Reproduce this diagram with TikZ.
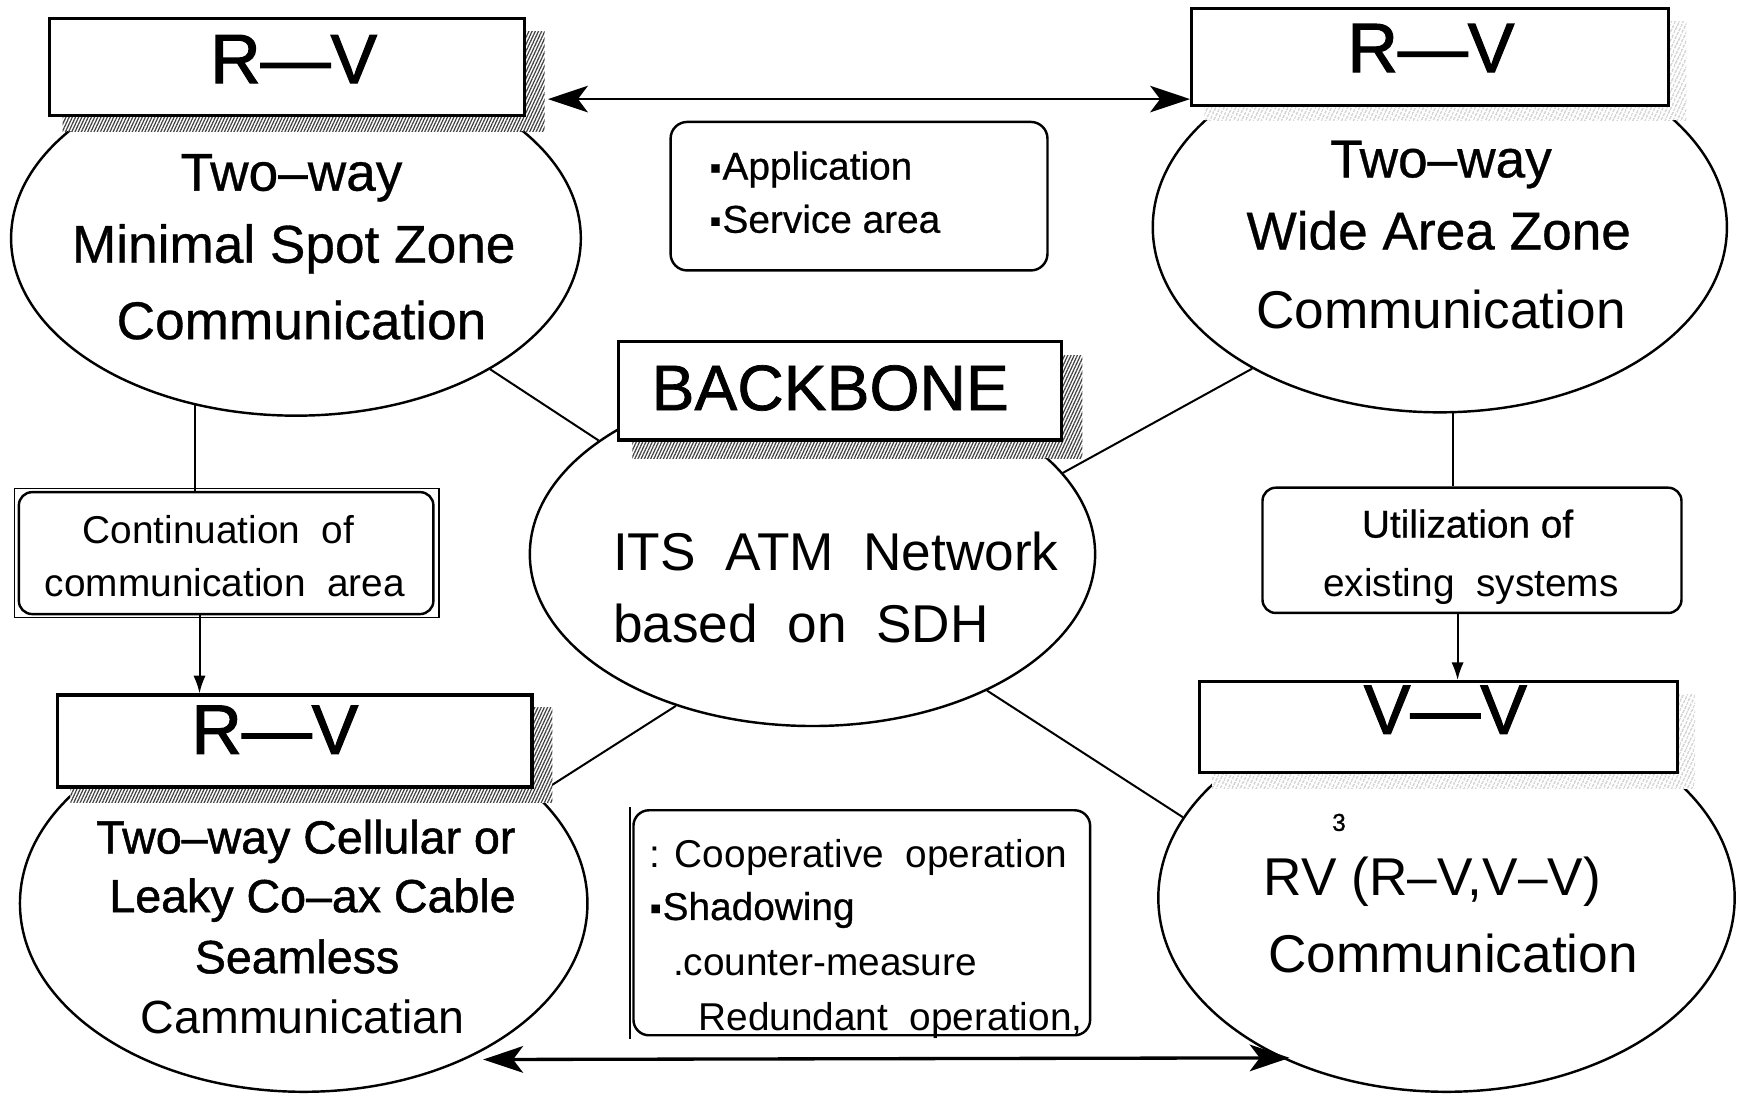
\documentclass[tikz,border=0pt]{standalone}
\usepackage{fontspec}
\setmainfont{Liberation Sans}
\newfontfamily\fbA{Liberation Sans}[FakeBold=1.6]
\newfontfamily\fbB{Liberation Sans}[FakeBold=0.6]
\newfontfamily\fbC{Liberation Sans}[FakeBold=1.1]
\usetikzlibrary{shapes.geometric, arrows.meta, patterns.meta}
\pgfdeclarelayer{bg}
\pgfdeclarelayer{ell}
\pgfdeclarelayer{shd}
\pgfsetlayers{bg,ell,shd,main}
\newcommand\myfs[1]{\fontsize{#1}{#1}\selectfont}
\newcommand\bul{\raisebox{0.02em}{\myfs{30}▪}\hspace{1pt}}
\begin{document}
\begin{tikzpicture}[x=1pt,y=-1pt,
  ell/.style={ellipse, draw, fill=white, line width=2.2pt, inner sep=0pt},
  hbox/.style={rectangle, draw, fill=white, line width=2.8pt, inner sep=0pt},
  rbox/.style={rectangle, rounded corners=12pt, draw, fill=white, line width=2.2pt, inner sep=0pt},
  link/.style={line width=1.8pt},
  bigarr/.style={line width=2pt, arrows={Stealth[length=36pt,width=24pt,inset=9pt]-Stealth[length=36pt,width=24pt,inset=9pt]}},
  smallarr/.style={line width=1.8pt, arrows={-Latex[length=16pt,width=11pt]}},
  shddark/.style={preaction={fill=white}, pattern={Lines[angle=65,distance=2.6pt,line width=1.1pt]}, pattern color=black!75},
  shdlight/.style={preaction={fill=white}, pattern={Lines[angle=65,distance=4pt,line width=0.8pt]}, pattern color=black!45},
  rv/.style={font=\fbA\myfs{63}, inner sep=0pt, anchor=base},
  el/.style={font=\fbB\myfs{48}, inner sep=0pt, anchor=base},
  elr/.style={font=\myfs{48}, inner sep=0pt, anchor=base},
  elsm/.style={font=\fbC\myfs{42}, inner sep=0pt, anchor=base},
  bt/.style={font=\myfs{35}, inner sep=0pt, anchor=base},
  btb/.style={font=\fbB\myfs{35}, inner sep=0pt, anchor=base}
]
\begin{pgfonlayer}{bg}
\fill[white] (0,0) rectangle (1568,990);
\end{pgfonlayer}
\useasboundingbox (0,0) rectangle (1568,990);

% ellipses
\begin{pgfonlayer}{ell}
\node[ell, minimum width=514pt, minimum height=320pt] (tl) at (267,215) {};
\node[ell, minimum width=518pt, minimum height=334pt] (tr) at (1299,205) {};
\node[ell, minimum width=510pt, minimum height=310pt] (ctr) at (733,500) {};
\node[ell, minimum width=512pt, minimum height=340pt] (bl) at (274,815) {};
\node[ell, minimum width=520pt, minimum height=350pt] (br) at (1305,810) {};
\end{pgfonlayer}

% header boxes
\node[hbox, minimum width=428pt, minimum height=87pt] (tlbox) at (259,60.5) {};
\node[hbox, minimum width=430pt, minimum height=87pt] (trbox) at (1290,51.5) {};
\node[hbox, minimum width=400pt, minimum height=89pt] (bbox) at (758,352.5) {};
\node[hbox, minimum width=428pt, minimum height=83pt] (blbox) at (266,668.5) {};
\node[hbox, minimum width=431pt, minimum height=82pt] (brbox) at (1297.5,656) {};

% shadows
\begin{pgfonlayer}{shd}
\path[shddark] ([shift={(13,13)}]tlbox.north west) rectangle ([shift={(17,13)}]tlbox.south east);
\path[shdlight] ([shift={(13,13)}]trbox.north west) rectangle ([shift={(15,12)}]trbox.south east);
\path[shddark] ([shift={(14,14)}]bbox.north west) rectangle ([shift={(17,15)}]bbox.south east);
\path[shddark] ([shift={(13,13)}]blbox.north west) rectangle ([shift={(17,13)}]blbox.south east);
\path[shdlight] ([shift={(13,13)}]brbox.north west) rectangle ([shift={(15,13)}]brbox.south east);
\end{pgfonlayer}

% other boxes
\node[rbox, rounded corners=15pt, minimum width=340pt, minimum height=134pt] (app) at (775,177) {};
\node[rbox, minimum width=374pt, minimum height=110pt] (cont) at (204,499) {};
\draw[line width=1.4pt] ([shift={(-3,-2)}]cont.north west) rectangle ([shift={(4,2)}]cont.south east);
\node[rbox, minimum width=378pt, minimum height=113pt] (util) at (1328,496.5) {};
\node[rbox, rounded corners=14pt, minimum width=412pt, minimum height=203pt] (coop) at (777.5,832.5) {};
\draw[line width=1.4pt] ([shift={(-2,-2)}]coop.north west) -- ([shift={(-2,2)}]coop.south west);

% links
\begin{pgfonlayer}{bg}
\draw[link] (tl.-34) -- (ctr.152);
\draw[link] (tr.-143) -- (ctr.18);
\draw[link] (bl.25) -- (ctr.-132);
\draw[link] (br.163) -- (ctr.-38);
\draw[link] ([xshift=-28pt]cont.north) -- ([xshift=-28pt]cont.north |- tl.center);
\draw[link] ([xshift=-17pt]util.north) -- ([xshift=-17pt]util.north |- tr.center);
\end{pgfonlayer}

% arrows
\draw[smallarr] ([xshift=-24pt]cont.south) -- ([xshift=-24pt]cont.south |- blbox.north);
\draw[smallarr] ([xshift=-13pt]util.south) -- ([xshift=-13pt]util.south |- brbox.north);
\draw[bigarr] ([xshift=20pt,yshift=16pt]tlbox.south east) -- ([yshift=7pt]trbox.south west);
\draw[bigarr, line width=3pt] ([xshift=16pt]bl.-44) -- ([xshift=8pt]br.224.8);

% texts
\node[rv] (rv1) at (265,75) {R—V};
\node[rv] (rv2) at (1291,65) {R—V};
\node[rv] (rv3) at (248,680) {R—V};
\node[rv] (rv4) at (1304,662) {V—V};
\node[rv, font=\fbC\myfs{58}] (bbt) at (749,370) {BACKBONE};

\node[el] (a1) at (263,172) {Two–way};
\node[el] (a2) at (265,237) {Minimal Spot Zone};
\node[el] (a3) at (272,306) {Communication};

\node[el] (b1) at (1300,160) {Two–way};
\node[el] (b2) at (1298,225) {Wide Area Zone};
\node[elr] (b3) at (1300,296) {Communication};

\node[elr, anchor=base west] (c1) at (553,515) {ITS\ \ ATM\ \ Network};
\node[elr, anchor=base west] (c2) at (553,580) {based\ \ on\ \ SDH};

\node[elsm] (d1) at (276,770) {Two–way Cellular or};
\node[elsm] (d2) at (282,823) {Leaky Co–ax Cable};
\node[elsm] (d3) at (268,878) {Seamless};
\node[elr, font=\myfs{42}] (d4) at (273,932) {Cammunicatian};

\node[elr, anchor=base west] (e1) at (1140,808) {RV (R–V,V–V)};
\node[elr] (e2) at (1311,877) {Communication};
\node[inner sep=0pt, font=\fbC\myfs{22}] (e3) at (1208,742) {3};

\node[btb, anchor=base west] (f1) at (640,162) {\bul Application};
\node[btb, anchor=base west] (f2) at (640,210) {\bul Service area};

\node[bt] (g1) at (197,490) {Continuation\ \ of};
\node[bt] (g2) at (203,538) {communication\ \ area};

\node[btb] (h1) at (1324,485) {Utilization of};
\node[bt] (h2) at (1327,538) {existing\ \ systems};

\node[bt, anchor=base west] (k1) at (586,783) {: Cooperative\ \ operation};
\node[btb, anchor=base west] (k2) at (586,830) {\bul Shadowing};
\node[bt, anchor=base west] (k3) at (607,880) {.counter-measure};
\node[bt, anchor=base west] (k4) at (630,930) {Redundant\ \ operation,};
\end{tikzpicture}
\end{document}
